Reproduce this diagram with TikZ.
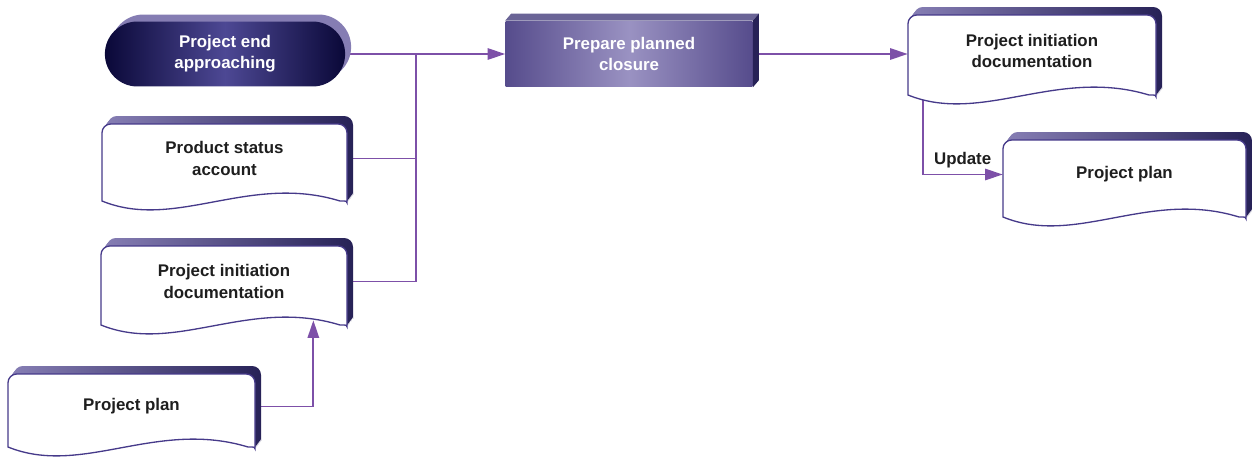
\documentclass[tikz,border=0pt]{standalone}
\usepackage{fontspec}
\setmainfont{Liberation Sans}
\usetikzlibrary{arrows.meta,shapes.misc,shadows,backgrounds}

\definecolor{flow}{HTML}{7D50A8}
\definecolor{rim}{HTML}{463A8A}
\definecolor{deep}{HTML}{272257}
\definecolor{lite}{HTML}{857DB3}
\definecolor{navy}{HTML}{0A0838}
\definecolor{dusk}{HTML}{4D4894}
\definecolor{proc}{HTML}{564C8C}
\definecolor{glow}{HTML}{9A92C2}
\definecolor{slab}{HTML}{6A6496}
\definecolor{ink}{HTML}{1E1E1E}

\begin{document}
\begin{tikzpicture}[x=0.02cm, y=-0.02cm,
	every node/.style={font=\fontsize{9.6}{12}\selectfont\bfseries, align=center},
	line/.style={flow, line width=1pt},
	tip/.style={-{Triangle[length=10pt, width=6.5pt]}},
	term/.style={rounded rectangle, minimum width=5.04cm, minimum height=1.3cm,
		general shadow={fill=lite, shadow xshift=0.12cm, shadow yshift=0.14cm},
		left color=navy, right color=navy, middle color=dusk, text=white},
	procbox/.style={rectangle, minimum width=4.94cm, minimum height=1.32cm,
		left color=proc, right color=proc, middle color=glow, text=white}]
	\useasboundingbox (0,0) rectangle (1252,457);

	% documents: back slab, then the white sheet, then the named node
	\foreach \nm/\xa/\ya/\xb/\yb/\txt in {
		psa/102/124/347/201/{Product status\\account},
		pidL/101/246/347/325/{Project initiation\\documentation},
		planL/8/374/255/447/{Project plan},
		pidR/908/15/1156/95/{Project initiation\\documentation},
		planR/1003/140/1246/217/{Project plan}} {
		\foreach \k in {1,...,6}
			\shade[left color=lite, right color=deep, shift={(\k,-1.33*\k)}, rounded corners=5pt]
				(\xa,\yb) -- (\xa,\ya) -- (\xb,\ya) -- ({\xb},{\yb-7}) [sharp corners]
				.. controls (\xb,\yb) .. ({\xb-7},{\yb})
				.. controls ({\xa+0.6*(\xb-\xa)},{\yb-28}) and ({\xa+0.3*(\xb-\xa)},{\yb+30}) .. (\xa,\yb) -- cycle;
		\draw[rim, fill=white, line width=0.75pt, rounded corners=5pt]
			(\xa,\yb) -- (\xa,\ya) -- (\xb,\ya) -- ({\xb},{\yb-7}) [sharp corners]
			.. controls (\xb,\yb) .. ({\xb-7},{\yb})
			.. controls ({\xa+0.6*(\xb-\xa)},{\yb-28}) and ({\xa+0.3*(\xb-\xa)},{\yb+30}) .. (\xa,\yb) -- cycle;
		\node[minimum width={(\xb-\xa)*0.02cm}, minimum height={(\yb-\ya-8)*0.02cm}, text=ink]
			(\nm) at ({(\xa+\xb)/2},{(\ya+\yb)/2-4}) {\txt};
	}

	\node[term] (ending) at (225,54) {Project end\\approaching};
	\node[procbox] (prep) at (629,54) {Prepare planned\\closure};
	\fill[slab] (prep.north west) -- ([shift={(6,-7)}]prep.north west)
		-- ([shift={(6,-7)}]prep.north east) -- (prep.north east) -- cycle;
	\fill[deep] (prep.north east) -- ([shift={(6,-7)}]prep.north east)
		-- ([shift={(6,-7)}]prep.south east) -- (prep.south east) -- cycle;

	% connectors
	\begin{scope}[on background layer]
		\coordinate (bus) at (416,54);
		\draw[line, tip] (ending.east) -- (prep.west);
		\draw[line] (psa.east) -| (bus);
		\draw[line] (pidL.east) -| (bus);
		\draw[line, tip] (planL.east) -| ([xshift=-0.68cm, yshift=-0.06cm]pidL.south east);
		\draw[line, tip] (prep.east) -- (prep.east -| pidR.west);
		\draw[line, tip] ([xshift=0.3cm]pidR.south west) |- node[pos=0.75, above, text=ink] {Update} (planR.west);
	\end{scope}
\end{tikzpicture}
\end{document}
